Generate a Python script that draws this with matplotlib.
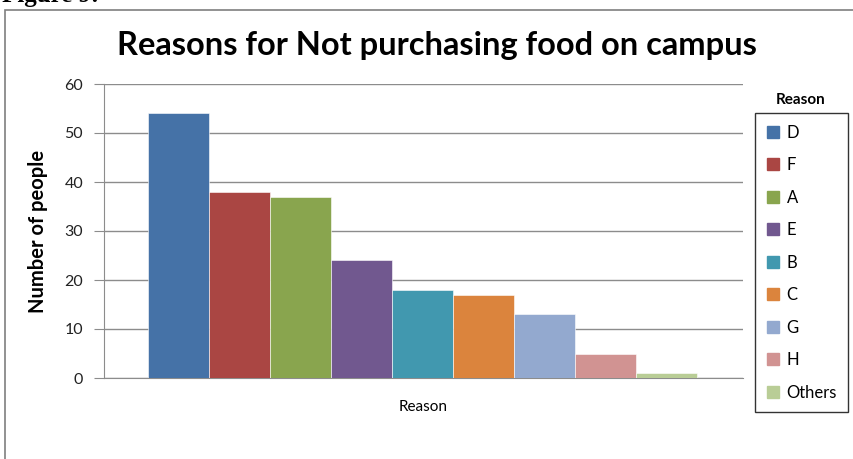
import matplotlib
matplotlib.use('Agg')
from matplotlib import pyplot as plt
from matplotlib.patches import Rectangle
import numpy as np

reasons = ['D', 'F', 'A', 'E', 'B', 'C', 'G', 'H', 'Others']
counts = [54, 38, 37, 24, 18, 17, 13, 5, 1]
colors = ['#4572A7', '#AA4643', '#89A54E', '#71588F', '#4198AF',
          '#DB843D', '#93A9CF', '#D19392', '#B9CD96']
yticks = [0, 10, 20, 30, 40, 50, 60]

plt.rcParams['font.family'] = ['Lato', 'DejaVu Sans']

W, H = 854, 459
fig = plt.figure(figsize=(W / 100, H / 100), dpi=100)

# outer chart border (extends past the right and bottom edges)
fig.patches.append(Rectangle((5 / W, -0.1), 1.2, (H - 10) / H + 0.1,
                             transform=fig.transFigure, fill=False,
                             edgecolor='#7f7f7f', lw=1.2, clip_on=False))

# cropped caption at the very top
fig.text(2 / W, (H - 2) / H, 'Figure 9:', family='Liberation Serif',
         fontweight='bold', fontsize=18, va='baseline', ha='left')

ax = fig.add_axes([104 / W, (H - 378) / H, 639 / W, 294 / H])
x = np.arange(len(reasons))
ax.bar(x, counts, width=1.0, color=colors, edgecolor='white', linewidth=0.4,
       zorder=3)

ax.set_xlim(-1.22, 9.25)
ax.set_ylim(0, 60)
ax.set_yticks(yticks)
ax.set_xticks([])
ax.grid(axis='y', color='#8c8c8c', lw=1.0, zorder=0)
for s in ['top', 'right']:
    ax.spines[s].set_visible(False)
ax.spines['left'].set_color('#8c8c8c')
ax.spines['bottom'].set_color('#8c8c8c')
ax.tick_params(axis='y', length=7, color='#8c8c8c', labelsize=11.5,
               labelcolor='#222222', pad=8)

ax.set_xlabel('Reason', fontsize=11, labelpad=16)
ax.set_ylabel('Number of people', fontsize=14.5, fontweight='bold',
              labelpad=12)

fig.text(437 / W, (H - 45) / H, 'Reasons for Not purchasing food on campus',
         fontsize=23.5, fontweight='bold', ha='center', va='center')

handles = [Rectangle((0, 0), 1, 1, color=c) for c in colors]
leg = fig.legend(handles, reasons, loc='upper left', mode='expand',
                 bbox_to_anchor=(755 / W, (H - 409) / H, 93 / W, 296 / H),
                 frameon=True, fancybox=False, fontsize=12,
                 handlelength=0.75, handleheight=0.75, handletextpad=0.45,
                 labelspacing=0.99, borderpad=0.7, borderaxespad=0)
leg.get_frame().set_edgecolor('black')
leg.get_frame().set_linewidth(1.0)
fig.text(801 / W, (H - 100) / H, 'Reason', fontsize=11, fontweight='bold',
         ha='center', va='center')

fig.savefig('out.png', dpi=100)
